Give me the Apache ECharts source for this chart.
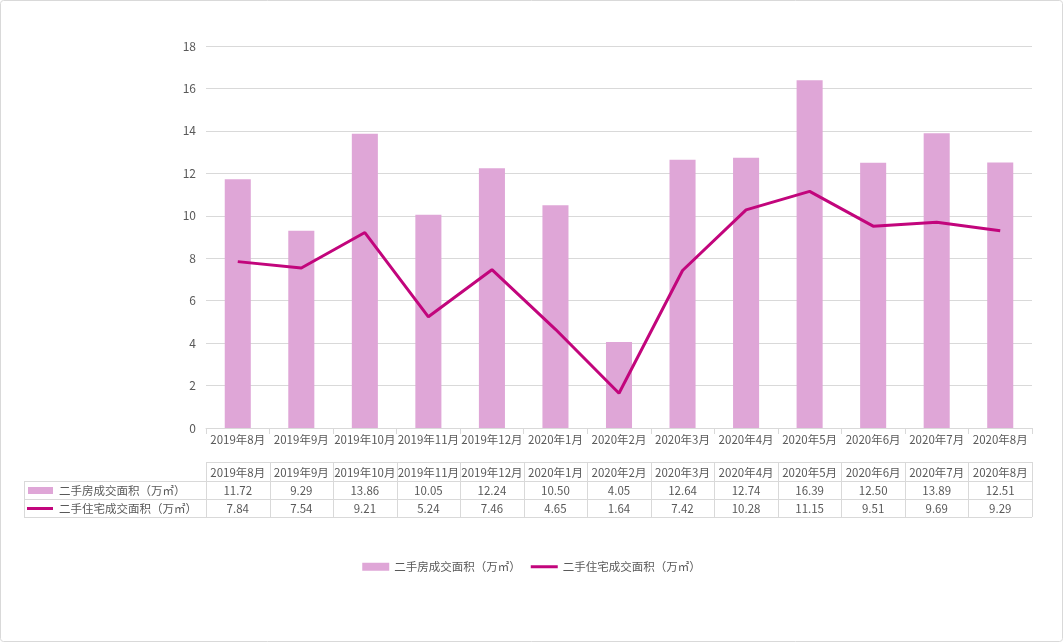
<!DOCTYPE html>
<html><head><meta charset="utf-8">
<script src="https://cdn.jsdelivr.net/npm/echarts@6/dist/echarts.min.js"></script>
<style>html,body{margin:0;padding:0;background:#fff}#c{width:1063px;height:642px}</style>
</head><body><div id="c"></div>
<script>
const categories = ['2019年8月','2019年9月','2019年10月','2019年11月','2019年12月','2020年1月','2020年2月','2020年3月','2020年4月','2020年5月','2020年6月','2020年7月','2020年8月'];
const barName = '二手房成交面积（万㎡）';
const lineName = '二手住宅成交面积（万㎡）';
const barValues = [11.72, 9.29, 13.86, 10.05, 12.24, 10.50, 4.05, 12.64, 12.74, 16.39, 12.50, 13.89, 12.51];
const lineValues = [7.84, 7.54, 9.21, 5.24, 7.46, 4.65, 1.64, 7.42, 10.28, 11.15, 9.51, 9.69, 9.29];
const yMin = 0, yMax = 18, yStep = 2;

const FONT = '"Noto Sans CJK SC", "Microsoft YaHei", sans-serif';
const TXT = '#595959';
const GRID = '#d9d9d9';
const BAR = '#dfa6d7';
const LINE = '#c2057c';

const chart = echarts.init(document.getElementById('c'), null, {renderer: 'canvas'});
const option = {
  backgroundColor: '#fff',
  animation: false,
  textStyle: {fontFamily: FONT},
  grid: {left: 206, right: 31, top: 46, bottom: 214, containLabel: false},
  legend: {
    data: [{name: barName, icon: 'rect'}, {name: lineName, icon: 'path://M0,0H27V3H0Z'}],
    top: 556, left: 'center',
    itemWidth: 27, itemHeight: 8, itemGap: 10,
    textStyle: {color: TXT, fontSize: 11.5, fontFamily: FONT}
  },
  xAxis: {
    type: 'category', data: categories,
    axisLine: {lineStyle: {color: GRID}},
    axisTick: {show: true, length: 6, lineStyle: {color: GRID}},
    axisLabel: {color: TXT, fontSize: 11.5, margin: 6, interval: 0, fontFamily: FONT}
  },
  yAxis: {
    type: 'value', min: yMin, max: yMax, interval: yStep,
    axisLine: {show: false}, axisTick: {show: false},
    axisLabel: {color: TXT, fontSize: 12, margin: 10, fontFamily: FONT},
    splitLine: {lineStyle: {color: GRID, width: 1}}
  },
  series: [
    {name: barName, type: 'bar', data: barValues, barWidth: '41%', itemStyle: {color: BAR}},
    {name: lineName, type: 'line', data: lineValues, symbol: 'none', lineStyle: {color: LINE, width: 3}, itemStyle: {color: LINE}}
  ]
};
chart.setOption(option);

// Data table below the axis
const centers = categories.map(c => chart.convertToPixel({xAxisIndex: 0}, c));
const step = centers.length > 1 ? centers[1] - centers[0] : 60;
const gx0 = centers[0] - step / 2;
const gx1 = centers[centers.length - 1] + step / 2;
const tx = 24;
const ys = [462, 481, 499, 517];
const g = [];
const line = (x1, y1, x2, y2) => g.push({type: 'line', shape: {x1, y1, x2, y2}, style: {stroke: GRID, lineWidth: 1}, silent: true});
line(gx0, ys[0] + 0.5, gx1, ys[0] + 0.5);
for (let i = 1; i < 4; i++) line(tx, ys[i] + 0.5, gx1, ys[i] + 0.5);
line(tx + 0.5, ys[1], tx + 0.5, ys[3]);
for (let i = 0; i <= categories.length; i++) {
  const x = Math.round(gx0 + i * step) + 0.5;
  line(x, ys[0], x, ys[3]);
}
const txt = (x, y, s, align) => g.push({type: 'text', x, y, silent: true,
  style: {text: s, fill: TXT, font: '11.5px ' + FONT, align: align || 'center', verticalAlign: 'middle'}});
categories.forEach((c, i) => {
  txt(centers[i], (ys[0] + ys[1]) / 2 + 1, c);
  txt(centers[i], (ys[1] + ys[2]) / 2 + 1, barValues[i].toFixed(2));
  txt(centers[i], (ys[2] + ys[3]) / 2 + 1, lineValues[i].toFixed(2));
});
g.push({type: 'rect', shape: {x: 28, y: 487, width: 25, height: 7}, style: {fill: BAR}, silent: true});
g.push({type: 'line', shape: {x1: 27, y1: 508.5, x2: 53, y2: 508.5}, style: {stroke: LINE, lineWidth: 3}, silent: true});
g.push({type: 'text', x: 59, y: (ys[1] + ys[2]) / 2 + 1, silent: true, style: {text: barName, fill: TXT, font: '11.5px ' + FONT, verticalAlign: 'middle'}});
g.push({type: 'text', x: 59, y: (ys[2] + ys[3]) / 2 + 1, silent: true, style: {text: lineName, fill: TXT, font: '11.5px ' + FONT, verticalAlign: 'middle'}});
// outer border
g.push({type: 'rect', shape: {x: 0.5, y: 0.5, width: 1062, height: 641, r: 3}, style: {fill: 'none', stroke: GRID, lineWidth: 1}, silent: true});
chart.setOption({graphic: g});
</script></body></html>
